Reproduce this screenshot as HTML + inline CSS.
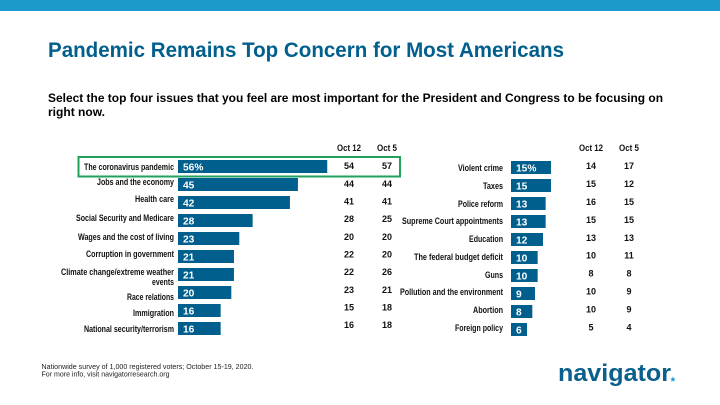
<!DOCTYPE html>
<html lang="en">
<head>
<meta charset="utf-8">
<title>Pandemic Remains Top Concern for Most Americans</title>
<style>
html,body{margin:0;padding:0;background:#fff;width:720px;height:405px;overflow:hidden}
svg{display:block;font-family:"Liberation Sans",Arial,sans-serif}
.lbl{font-size:9.2px;font-weight:700;fill:#111;text-anchor:end}
.hdr{font-size:9.2px;font-weight:700;fill:#111;text-anchor:middle}
.num{font-size:9px;font-weight:700;fill:#111;text-anchor:middle}
.val{font-size:10.2px;font-weight:700;fill:#fff}
</style>
</head>
<body>
<svg id="chart" width="720" height="405" viewBox="0 0 720 405" xmlns="http://www.w3.org/2000/svg">
  <rect x="0" y="0" width="720" height="11" fill="#1b9acb"/>
  <text x="48" y="57" font-size="21" font-weight="700" fill="#005f8c" textLength="516" lengthAdjust="spacingAndGlyphs">Pandemic Remains Top Concern for Most Americans</text>
  <text x="48" y="102" font-size="12" font-weight="700" fill="#000" textLength="615" lengthAdjust="spacingAndGlyphs">Select the top four issues that you feel are most important for the President and Congress to be focusing on</text>
  <text x="48" y="116" font-size="12" font-weight="700" fill="#000" textLength="57" lengthAdjust="spacingAndGlyphs">right now.</text>

  <text class="hdr" x="349" y="151" textLength="24" lengthAdjust="spacingAndGlyphs">Oct 12</text>
  <text class="hdr" x="387" y="151" textLength="20" lengthAdjust="spacingAndGlyphs">Oct 5</text>
  <text class="hdr" x="591" y="151" textLength="24" lengthAdjust="spacingAndGlyphs">Oct 12</text>
  <text class="hdr" x="629" y="151" textLength="20" lengthAdjust="spacingAndGlyphs">Oct 5</text>

  <g id="left-bars"></g>
  <g id="right-bars"></g>

  <g>
    <text class="lbl" x="174" y="170" textLength="90" lengthAdjust="spacingAndGlyphs">The coronavirus pandemic</text>
    <text class="lbl" x="174" y="185" textLength="77" lengthAdjust="spacingAndGlyphs">Jobs and the economy</text>
    <text class="lbl" x="174" y="202" textLength="39" lengthAdjust="spacingAndGlyphs">Health care</text>
    <text class="lbl" x="174" y="221" textLength="98" lengthAdjust="spacingAndGlyphs">Social Security and Medicare</text>
    <text class="lbl" x="174" y="240" textLength="96" lengthAdjust="spacingAndGlyphs">Wages and the cost of living</text>
    <text class="lbl" x="174" y="257" textLength="88" lengthAdjust="spacingAndGlyphs">Corruption in government</text>
    <text class="lbl" x="174" y="275" textLength="113" lengthAdjust="spacingAndGlyphs">Climate change/extreme weather</text>
    <text class="lbl" x="174" y="285" textLength="22" lengthAdjust="spacingAndGlyphs">events</text>
    <text class="lbl" x="174" y="300" textLength="47" lengthAdjust="spacingAndGlyphs">Race relations</text>
    <text class="lbl" x="174" y="316" textLength="41" lengthAdjust="spacingAndGlyphs">Immigration</text>
    <text class="lbl" x="174" y="332" textLength="90" lengthAdjust="spacingAndGlyphs">National security/terrorism</text>
  </g>
  <g>
    <text class="lbl" x="503" y="171" textLength="45" lengthAdjust="spacingAndGlyphs">Violent crime</text>
    <text class="lbl" x="503" y="189" textLength="20" lengthAdjust="spacingAndGlyphs">Taxes</text>
    <text class="lbl" x="503" y="207" textLength="45" lengthAdjust="spacingAndGlyphs">Police reform</text>
    <text class="lbl" x="503" y="224" textLength="101" lengthAdjust="spacingAndGlyphs">Supreme Court appointments</text>
    <text class="lbl" x="503" y="242" textLength="34" lengthAdjust="spacingAndGlyphs">Education</text>
    <text class="lbl" x="503" y="260" textLength="89" lengthAdjust="spacingAndGlyphs">The federal budget deficit</text>
    <text class="lbl" x="503" y="278" textLength="18" lengthAdjust="spacingAndGlyphs">Guns</text>
    <text class="lbl" x="503" y="295" textLength="103" lengthAdjust="spacingAndGlyphs">Pollution and the environment</text>
    <text class="lbl" x="503" y="313" textLength="30" lengthAdjust="spacingAndGlyphs">Abortion</text>
    <text class="lbl" x="503" y="331" textLength="48" lengthAdjust="spacingAndGlyphs">Foreign policy</text>
  </g>

  <rect x="78.5" y="157" width="321.5" height="19.5" fill="none" stroke="#1ea25c" stroke-width="2"/>

  <text x="41.5" y="369" font-size="7.5" fill="#222" textLength="212" lengthAdjust="spacingAndGlyphs">Nationwide survey of 1,000 registered voters; October 15-19, 2020.</text>
  <text x="41.5" y="376.5" font-size="7.5" fill="#222" textLength="128" lengthAdjust="spacingAndGlyphs">For more info, visit navigatorresearch.org</text>

  <text x="558" y="381" font-size="24" font-weight="700" fill="#0a5f8c" textLength="113" lengthAdjust="spacingAndGlyphs">navigator</text>
  <text x="670" y="381.5" font-size="6.5" font-weight="700" fill="#1b9acb">★</text>
</svg>
<script>
const leftCategories = ["The coronavirus pandemic","Jobs and the economy","Health care","Social Security and Medicare","Wages and the cost of living","Corruption in government","Climate change/extreme weather events","Race relations","Immigration","National security/terrorism"];
const leftCurrent = [56,45,42,28,23,21,21,20,16,16];
const leftOct12 = [54,44,41,28,20,22,22,23,15,16];
const leftOct5 = [57,44,41,25,20,20,26,21,18,18];

const rightCategories = ["Violent crime","Taxes","Police reform","Supreme Court appointments","Education","The federal budget deficit","Guns","Pollution and the environment","Abortion","Foreign policy"];
const rightCurrent = [15,15,13,13,12,10,10,9,8,6];
const rightOct12 = [14,15,16,15,13,10,8,10,10,5];
const rightOct5 = [17,12,15,15,13,11,8,9,9,4];

const SVG_NS = "http://www.w3.org/2000/svg";
const UNIT = 2.665;
const BAR_H = 13;
const BAR_PITCH = 18;

function xLen(v){ return v * UNIT; }
function barTop(origin, i){ return origin + i * BAR_PITCH; }

function drawPanel(groupId, side, cats, cur, a, b, x0, barOrigin, numPitch, colA, colB){
  const g = document.getElementById(groupId);
  cats.forEach(function(cat, i){
    const slug = side + "-" + cat.toLowerCase().replace(/[^a-z]+/g, "-");
    const top = barTop(barOrigin, i);

    const r = document.createElementNS(SVG_NS, "rect");
    r.setAttribute("x", x0);
    r.setAttribute("y", top);
    r.setAttribute("width", xLen(cur[i]));
    r.setAttribute("height", BAR_H);
    r.setAttribute("fill", "#005f8c");
    
    
    g.appendChild(r);

    const t = document.createElementNS(SVG_NS, "text");
    t.setAttribute("class", "val");
    t.setAttribute("x", x0 + 5);
    t.setAttribute("y", top + 10.4);
    t.textContent = cur[i] + (i === 0 ? "%" : "");
    
    
    g.appendChild(t);

    const na = document.createElementNS(SVG_NS, "text");
    na.setAttribute("class", "num");
    na.setAttribute("x", colA);
    na.setAttribute("y", 169.2 + i * numPitch);
    na.textContent = a[i];
    
    
    g.appendChild(na);

    const nb = document.createElementNS(SVG_NS, "text");
    nb.setAttribute("class", "num");
    nb.setAttribute("x", colB);
    nb.setAttribute("y", 169.2 + i * numPitch);
    nb.textContent = b[i];
    
    
    g.appendChild(nb);
  });
}

drawPanel("left-bars", "left", leftCategories, leftCurrent, leftOct12, leftOct5, 178, 160, 17.67, 349, 387);
drawPanel("right-bars", "right", rightCategories, rightCurrent, rightOct12, rightOct5, 511, 161, 17.9, 591, 629);
</script>
</body>
</html>
